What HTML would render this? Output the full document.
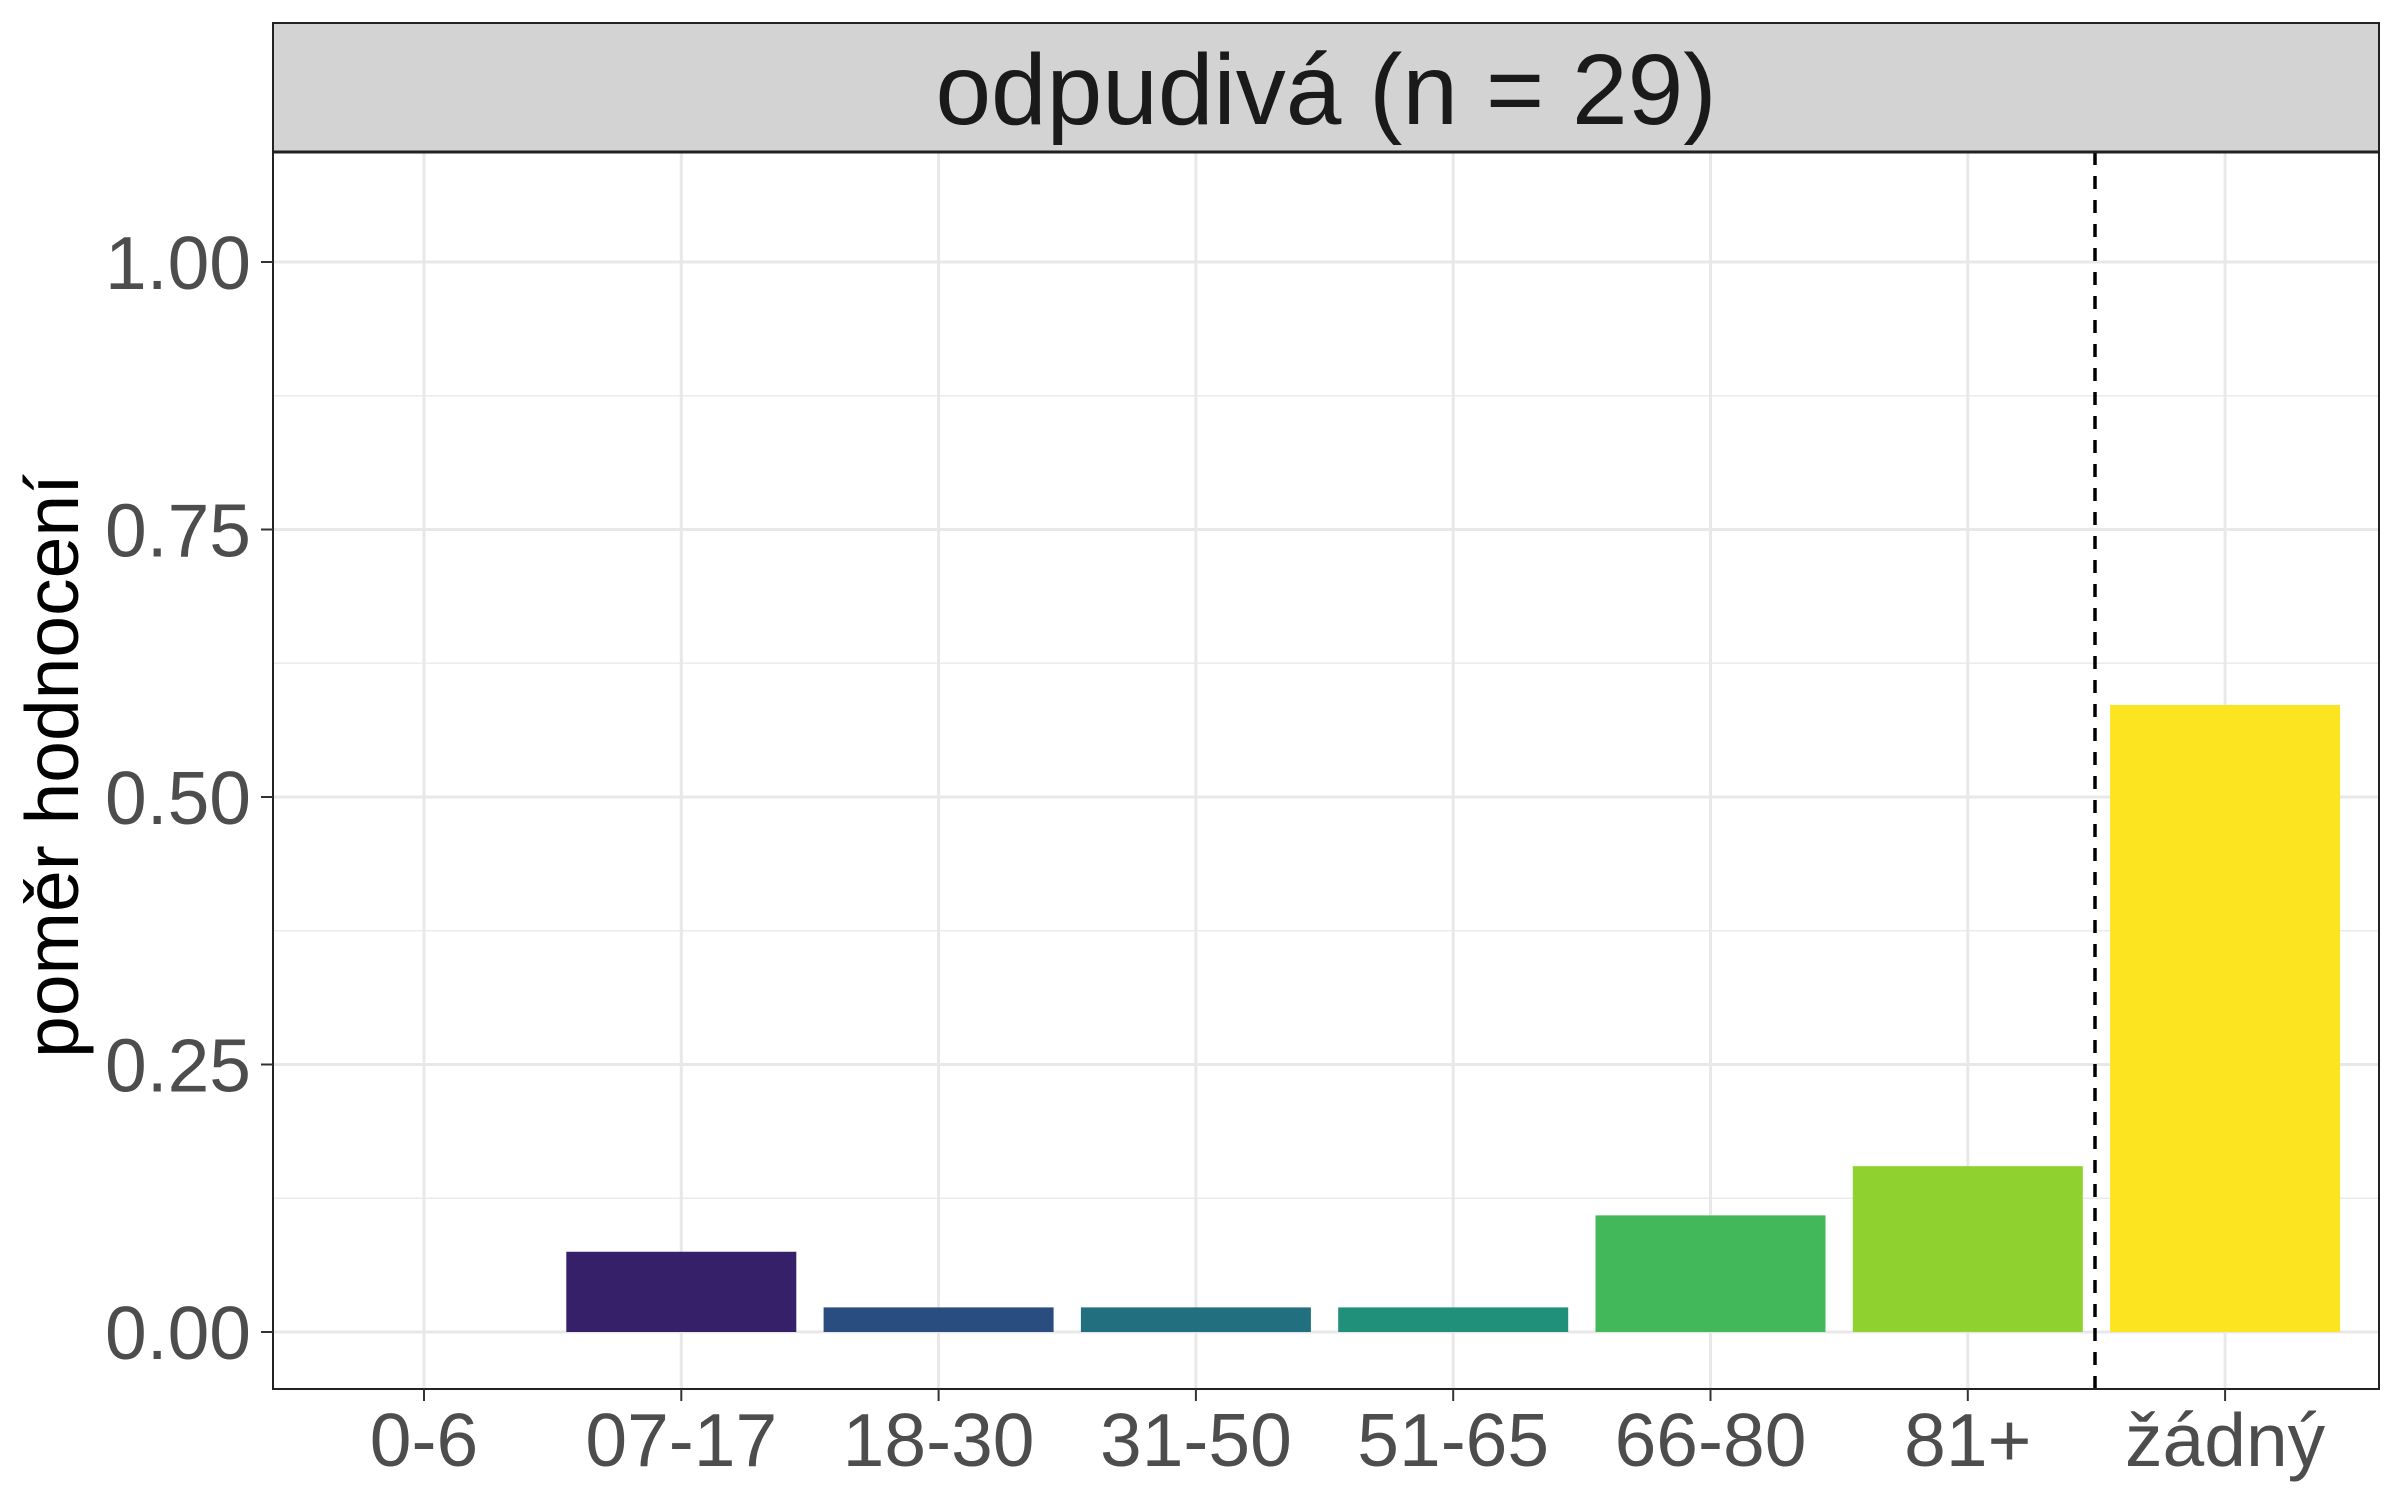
<!DOCTYPE html>
<html><head><meta charset="utf-8"><style>
html,body{margin:0;padding:0;background:#fff;}
svg{display:block;font-family:"Liberation Sans",Arial,sans-serif;}
</style></head><body>
<svg id="chart" width="2400" height="1500" viewBox="0 0 2400 1500" xmlns="http://www.w3.org/2000/svg">
<rect x="0" y="0" width="2400" height="1500" fill="#fff"/>
<g id="grid"></g>
<g id="bars"></g>
<line x1="2095" x2="2095" y1="152" y2="1389" stroke="#000" stroke-width="3.5" stroke-dasharray="13,11"/>
<rect x="273" y="152" width="2106" height="1237" fill="none" stroke="#222" stroke-width="2"/>
<rect x="273" y="23" width="2106" height="129" fill="#d3d3d3" stroke="#222" stroke-width="2"/>
<line x1="273" x2="2379" y1="152" y2="152" stroke="#222" stroke-width="3"/>
<text x="1326" y="124" text-anchor="middle" font-size="100" fill="#1a1a1a">odpudivá (n = 29)</text>
<g id="yticks"></g>
<g id="xticks"></g>
<text transform="translate(78,766) rotate(-90)" text-anchor="middle" font-size="75" fill="#000">poměr hodnocení</text>
</svg>
<script>
const categories = ["0-6","07-17","18-30","31-50","51-65","66-80","81+","žádný"];
const values = [0, 0.075, 0.023, 0.023, 0.023, 0.109, 0.155, 0.586];
const colors = ["#440154","#37206a","#2a4d7f","#22707f","#21907a","#42b85a","#8fd22f","#fde421"];
const yTicks = [0, 0.25, 0.5, 0.75, 1.0];
const yTickLabels = ["0.00","0.25","0.50","0.75","1.00"];
const yMinor = [0.125, 0.375, 0.625, 0.875, 1.125];

const NS = "http://www.w3.org/2000/svg";
const px0 = 273, px1 = 2379, py0 = 152, py1 = 1389;
const y0px = 1332, y1px = 262;
function y(v){ return y0px - v*(y0px - y1px); }
const step = 257.3, firstC = 424;
function x(i){ return firstC + i*step; }
const barW = 230;
function mk(tag, attrs, parent){ const e=document.createElementNS(NS,tag); for(const k in attrs) e.setAttribute(k,attrs[k]); parent.appendChild(e); return e; }
const grid = document.getElementById('grid');
yMinor.forEach(v=>{ if(y(v)>py0){ const l=mk('line',{x1:px0,x2:px1,y1:y(v),y2:y(v),stroke:'#ebebeb','stroke-width':1.5},grid);

 }});
yTicks.forEach(v=>{ const l=mk('line',{x1:px0,x2:px1,y1:y(v),y2:y(v),stroke:'#e8e8e8','stroke-width':3},grid);

 });
categories.forEach((c,i)=>{ const l=mk('line',{x1:x(i),x2:x(i),y1:py0,y2:py1,stroke:'#e8e8e8','stroke-width':3},grid);

 });
const bars = document.getElementById('bars');
values.forEach((v,i)=>{ if(v<=0) return; const r=mk('rect',{x:x(i)-barW/2,y:y(v),width:barW,height:y(0)-y(v),fill:colors[i]},bars);

 });
const yt = document.getElementById('yticks');
yTicks.forEach((v,i)=>{ const l=mk('line',{x1:px0-12,x2:px0,y1:y(v),y2:y(v),stroke:'#333','stroke-width':2},yt);


const t=mk('text',{x:px0-22,y:y(v)+27,'text-anchor':'end','font-size':75,fill:'#4d4d4d'},yt); t.textContent=yTickLabels[i];

 });
const xt = document.getElementById('xticks');
categories.forEach((c,i)=>{ const l=mk('line',{x1:x(i),x2:x(i),y1:py1,y2:py1+12,stroke:'#333','stroke-width':2},xt);


const t=mk('text',{x:x(i),y:1466,'text-anchor':'middle','font-size':75,fill:'#4d4d4d'},xt); t.textContent=c;

 });
</script>
</body></html>
